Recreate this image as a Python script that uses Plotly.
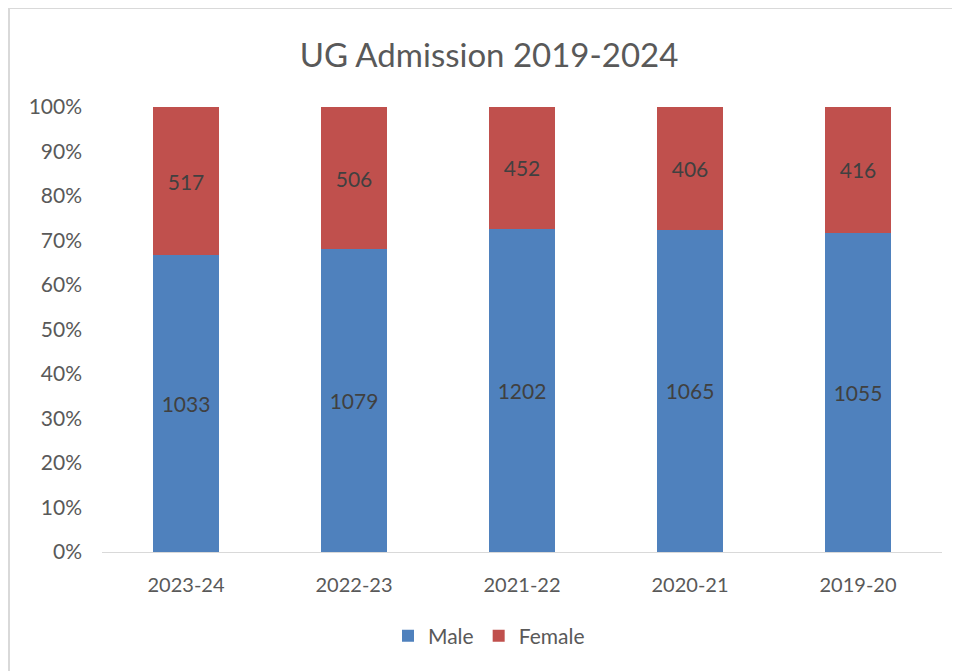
import plotly.graph_objects as go

categories = ["2023-24", "2022-23", "2021-22", "2020-21", "2019-20"]
male = [1033, 1079, 1202, 1065, 1055]
female = [517, 506, 452, 406, 416]
y_ticks = [0, 10, 20, 30, 40, 50, 60, 70, 80, 90, 100]
y_tick_labels = [f"{v}%" for v in y_ticks]

FONT = "Lato, 'Open Sans', sans-serif"
TXT = "#595959"

# The page body has an 8px margin; work in page coordinates and shift.
OFF = 8

fig = go.Figure()
fig.add_trace(go.Bar(
    name="Male", x=categories, y=male, marker=dict(color="#4F81BD", line=dict(width=0)),
    text=[str(v) for v in male], textposition="inside", insidetextanchor="middle",
    textfont=dict(color="#404040", size=21, family=FONT), hoverinfo="x+y",
))
fig.add_trace(go.Bar(
    name="Female", x=categories, y=female, marker=dict(color="#C0504D", line=dict(width=0)),
    text=[str(v) for v in female], textposition="inside", insidetextanchor="middle",
    textfont=dict(color="#404040", size=21, family=FONT), hoverinfo="x+y",
))

W, H = 960, 671
# plot area in page coords: x 102..942, y 107..552
ml = 102 - OFF
mr = W - (942 - OFF)
mt = 107 - OFF
mb = H - (552 - OFF)
pw, ph = W - ml - mr, H - mt - mb

def px_x(p):
    return (p - OFF - ml) / pw

def px_y(p):
    return (H - mb - (p - OFF)) / ph

fig.update_layout(
    width=W, height=H,
    barmode="stack", barnorm="percent", bargap=0.605,
    margin=dict(l=ml, r=mr, t=mt, b=mb),
    paper_bgcolor="white", plot_bgcolor="white",
    font=dict(family=FONT, color=TXT, size=21),
    title=dict(text="UG Admission 2019-2024", x=(489 - OFF) / W, xanchor="center", xref="container",
               y=1 - (55 - OFF) / H, yanchor="middle", yref="container",
               font=dict(size=33, color=TXT, family=FONT)),
    xaxis=dict(showgrid=False, showline=True, linecolor="#D9D9D9", linewidth=1,
               ticks="", tickfont=dict(size=20, color=TXT), ticklabelstandoff=15,
               zeroline=False),
    yaxis=dict(range=[0, 100], tickvals=y_ticks, ticktext=y_tick_labels,
               showgrid=False, showline=False, zeroline=False, ticks="",
               tickfont=dict(size=21, color=TXT), ticklabelstandoff=19),
    legend=dict(orientation="h", x=(489 - OFF) / W, xref="container", xanchor="center",
                y=1 - (636 - OFF) / H, yref="container", yanchor="middle",
                font=dict(size=21, color=TXT), traceorder="normal",
                itemwidth=30),
    showlegend=True,
    shapes=[
        dict(type="line", xref="paper", yref="paper", x0=px_x(9), x1=px_x(990),
             y0=px_y(8), y1=px_y(8), line=dict(color="#D9D9D9", width=2)),
        dict(type="line", xref="paper", yref="paper", x0=px_x(9), x1=px_x(9),
             y0=px_y(8), y1=px_y(700), line=dict(color="#D9D9D9", width=2)),
    ],
)

fig.write_html("out.html")
